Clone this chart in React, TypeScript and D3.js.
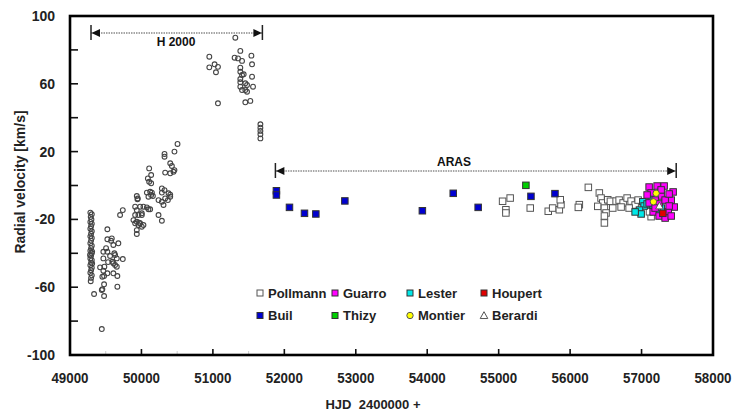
import React from "react";
import * as d3 from "d3";

// ---------- data ----------
const xTicks = [49000, 50000, 51000, 52000, 53000, 54000, 55000, 56000, 57000, 58000];
const xMinorTicks = [49500, 50500, 51500];
const yTicks = [-100, -80, -60, -40, -20, 0, 20, 40, 60, 80, 100];
const yLabelTicks = [-100, -60, -20, 20, 60, 100];

// H 2000 (open circles): [HJD-2400000, RV]
const h2000: [number, number][] = [
  [49285,-16],[49305,-17],[49290,-18.5],[49300,-20],[49285,-21.5],[49305,-22.5],[49295,-24],[49285,-25.5],
  [49305,-27],[49295,-28.5],[49285,-30],[49305,-31],[49295,-32.5],[49285,-34],[49305,-35.5],[49295,-37],
  [49285,-38.5],[49305,-40],[49295,-41.5],[49285,-43],[49305,-44],[49295,-45.5],[49285,-47],[49305,-48.5],
  [49295,-50],[49285,-51.5],[49305,-53],[49295,-54.5],[49290,-56.5],[49310,-39],[49310,-46],[49280,-41],
  [49523,-25.8],[49523,-31.7],[49585,-31.2],[49607,-35.1],[49677,-34.1],[49467,-39.1],[49523,-39.1],
  [49631,-41],[49655,-43],[49739,-43.4],[49467,-43],[49421,-48.3],[49467,-50.3],[49607,-45.9],[49655,-47.9],
  [49477,-53.4],[49523,-51.8],[49607,-51.8],[49663,-53.4],[49477,-58.3],[49445,-61.7],[49477,-65.2],
  [49663,-59.7],[49337,-64],[49445,-84.7],[49575,-32.6],[49621,-40],[49593,-45],[49481,-47.9],[49631,-46.9],
  [49453,-53.8],[49453,-61.2],[49505,-37],[49561,-41.6],[49533,-45.2],
  [49701,-17.4],[49739,-14.5],[49888,-20.4],[49912,-12.5],[49912,-17.4],[49912,-22.3],[49935,-14.5],
  [49935,-21.4],[49935,-26.3],[49935,-28.6],[49935,-6.2],[49944,-8.1],[49958,-17.4],[49958,-23.3],
  [49982,-12.5],[49982,-22.3],[50005,-16.4],[50005,-24.3],[50028,-12.5],[50028,-23.3],[50076,-4.2],
  [50098,-6.6],[50076,-12.9],[50098,-14],[50146,-4.2],[50160,-6.2],[50286,-4.2],[50403,-5.4],[50239,-8.6],
  [50286,-9.6],[50309,-11.5],[50239,-17.4],[50286,-20.8],[50108,10.1],[50136,6.2],[50090,4.2],[50108,2.2],
  [50136,1.3],[50122,-3.7],[50136,-5.6],[50286,-1.7],[50323,-2.7],[50379,-4.6],[50403,-6.6],[50332,-7.6],
  [50370,-8.6],[50505,24.5],[50462,20],[50323,18.6],[50323,17],[50403,13.1],[50426,11.5],[50332,7.6],
  [50403,7.2],[50449,8.1],[50462,9.1],[49949,-7.6],[50122,-14],[49967,-22],[50005,-17.4],
  [51314,87.2],[50950,76],[50950,69.7],[51024,71.5],[51071,70],[51043,66.8],[51071,48.5],[51384,79.4],
  [51304,75.4],[51352,75],[51408,73.5],[51539,76.6],[51548,71.5],[51384,69.5],[51384,67.1],[51408,65.2],
  [51431,65.6],[51548,64.2],[51384,62.8],[51384,60.9],[51454,60.3],[51478,59.3],[51384,58.3],[51408,56.3],
  [51454,56.3],[51478,55.3],[51562,58.3],[51454,49.1],[51524,49.9],[51665,36.1],[51665,34.1],[51665,32.2],
  [51665,30.2],[51665,27.8],
];

const pollmann: [number, number][] = [
  [55055,-9.3],[55101,-14.3],[55101,-16.2],[55161,-7.4],[55442,-13.3],[55694,-15.2],[55756,-13.3],
  [55849,-14.3],[55872,-11.3],[55862,-8.4],[56129,-11.3],[56115,-12.9],[56255,-1.1],[56409,-4.4],
  [56433,-7.4],[56457,-10.3],[56387,-12.3],[56480,-13.3],[56527,-8.4],[56564,-9.3],[56597,-13.3],
  [56503,-16.2],[56480,-18],[56480,-22.1],[56644,-9.2],[56686,-8.6],[56742,-10.3],[56798,-7.4],
  [56854,-9.2],[56910,-11.5],[56714,-12.7],[56826,-13.3],[56952,-8.6],[57134,-18.4],[57111,-15.5],
  [57064,-11.5],
];
const lester: [number, number][] = [
  [57018,-9.6],[57036,-12.1],[56971,-14.5],[56994,-16.8],[57078,-10.9],[57162,-11.5],[57275,-13.3],
  [57359,-17.4],[57219,-14.5],[56910,-15.6],[57134,-7.4],
];
const guarro: [number, number][] = [
  [57106,-0.9],[57218,-0.3],[57316,-0.3],[57442,-3.8],[57415,-8.6],[57457,-12.7],[57373,-15.6],
  [57274,-6.2],[57190,-8.6],[57106,-10.3],[57246,-10.9],[57330,-8.6],[57134,-4.4],[57386,-5],
  [57162,-15.6],[57246,-18],[57330,-19.2],[57415,-18],[57274,-2.6],[57078,-5.6],[57386,-12.1],[57190,-13.3],
];
const houpert: [number, number][] = [[57298,-16.4]];
const montier: [number, number][] = [[57204,-4.6],[57166,-9.6]];
const berardi: [number, number][] = [[57250,-12]];
const buil: [number, number][] = [
  [51889,-3.1],[51889,-5.6],[52072,-12.9],[52282,-16.4],[52441,-16.8],[52847,-9.1],[53932,-14.9],
  [54364,-4.6],[54713,-12.9],[55452,-6.4],[55788,-4.8],
];
const thizy: [number, number][] = [[55381,0.1]];

const h2000Span = [49294, 51693];
const arasSpan = [51875, 57485];

const legendRow1 = ["Pollmann", "Guarro", "Lester", "Houpert"];
const legendRow2 = ["Buil", "Thizy", "Montier", "Berardi"];

// ---------- chart ----------
const W = 744, H = 415;
const x = d3.scaleLinear().domain([49000, 58000]).range([70, 713]);
const y = d3.scaleLinear().domain([-100, 100]).range([355, 16]);
const FONT = "'Liberation Sans', Arial, sans-serif";

const colors: Record<string, string> = {
  Pollmann: "#ffffff", Guarro: "#ff00ff", Lester: "#00e8e8", Houpert: "#e00000",
  Buil: "#0000d0", Thizy: "#00d000", Montier: "#ffff00", Berardi: "#ffffff",
};

function Square({ cx, cy, fill, s = 6.5, stroke = "#333" }: any) {
  return <rect x={cx - s / 2} y={cy - s / 2} width={s} height={s} fill={fill} stroke={stroke} strokeWidth={1} />;
}

function Symbol({ name, cx, cy, s }: any) {
  if (name === "Montier") return <circle cx={cx} cy={cy} r={3.2} fill={colors[name]} stroke="#555" strokeWidth={1} />;
  if (name === "Berardi") {
    const r = 3.8;
    return <path d={`M${cx},${cy - r}L${cx + r},${cy + r * 0.8}L${cx - r},${cy + r * 0.8}Z`} fill="#fff" stroke="#555" strokeWidth={1} />;
  }
  return <Square cx={cx} cy={cy} fill={colors[name]} s={s} stroke={name === "Pollmann" ? "#555" : "#333"} />;
}

function SpanArrow({ span, yv, label, labelAbove, labelX }: any) {
  const x0 = x(span[0]), x1 = x(span[1]);
  return (
    <g>
      <line x1={x0} x2={x1} y1={yv} y2={yv} stroke="#8a8a8a" strokeWidth={1.6} strokeDasharray="1.5,1" />
      <line x1={x0} x2={x0} y1={yv - 8} y2={yv + 7} stroke="#222" strokeWidth={1.5} />
      <line x1={x1} x2={x1} y1={yv - 8} y2={yv + 7} stroke="#222" strokeWidth={1.5} />
      <path d={`M${x0 + 0.5},${yv}L${x0 + 9},${yv - 4}L${x0 + 9},${yv + 4}Z`} fill="#111" />
      <path d={`M${x1 - 0.5},${yv}L${x1 - 9},${yv - 4}L${x1 - 9},${yv + 4}Z`} fill="#111" />
      <text x={labelX} y={labelAbove ? yv - 5 : yv + 13} textAnchor="middle" fontFamily={FONT} fontWeight="bold" fontSize={12} fill="#111">{label}</text>
    </g>
  );
}

export default function App() {
  const seriesOrder: [string, [number, number][]][] = [
    ["Pollmann", pollmann], ["Lester", lester], ["Guarro", guarro], ["Houpert", houpert],
    ["Buil", buil], ["Thizy", thizy], ["Montier", montier], ["Berardi", berardi],
  ];
  const legendX = [260, 335, 410, 484];
  return (
    <svg width={W} height={H} style={{ position: "absolute", left: 0, top: 0, background: "#fff" }}>
      <rect width={W} height={H} fill="#fff" />
      {xMinorTicks.map((t) => (
        <line key={"mx" + t} x1={x(t)} x2={x(t)} y1={355} y2={351} stroke="#ccc" strokeWidth={1} />
      ))}
      {xTicks.map((t) => (
        <g key={"x" + t}>
          <line x1={x(t)} x2={x(t)} y1={355} y2={349} stroke="#111" strokeWidth={1.6} />
          <text x={x(t)} y={383} textAnchor="middle" fontFamily={FONT} fontWeight="bold" fontSize={14.5} fill="#222" transform={`translate(${x(t)},383) scale(0.92,1.05) translate(${-x(t)},-383)`}>{t}</text>
        </g>
      ))}
      {yTicks.map((t) => (
        <line key={"y" + t} x1={70} x2={78} y1={y(t)} y2={y(t)} stroke="#111" strokeWidth={1.6} />
      ))}
      {yLabelTicks.map((t) => (
        <text key={"yl" + t} x={55} y={y(t) + 5} textAnchor="end" fontFamily={FONT} fontWeight="bold" fontSize={14} fill="#222">{t}</text>
      ))}
      <rect x={70} y={16} width={643} height={339} fill="none" stroke="#000" strokeWidth={2.6} />
      <text transform="translate(25,182) rotate(-90)" textAnchor="middle" fontFamily={FONT} fontWeight="bold" fontSize={14} fill="#222">Radial velocity [km/s]</text>
      <text x={373} y={409} textAnchor="middle" fontFamily={FONT} fontWeight="bold" fontSize={13} fill="#222" style={{ whiteSpace: "pre" }}>{"HJD  2400000 +"}</text>

      <SpanArrow span={h2000Span} yv={33} label="H 2000" labelAbove={false} labelX={176} />
      <SpanArrow span={arasSpan} yv={171} label="ARAS" labelAbove={true} labelX={454} />

      {h2000.map(([a, b], i) => (
        <circle key={"h" + i} cx={x(a)} cy={y(b)} r={2.4} fill="none" stroke="#444" strokeWidth={1.1} />
      ))}
      {seriesOrder.map(([name, data]) => (
        <g key={name}>
          {data.map(([a, b], i) => (
            <Symbol key={i} name={name} cx={x(a)} cy={y(b)} s={6.5} />
          ))}
        </g>
      ))}

      {[legendRow1, legendRow2].map((row, ri) =>
        row.map((name, ci) => {
          const cy = ri === 0 ? 293 : 315.5;
          const lx = legendX[ci];
          return (
            <g key={name}>
              <Symbol name={name} cx={lx} cy={cy} s={6} />
              <text x={lx + 8} y={cy + 4.5} fontFamily={FONT} fontWeight="bold" fontSize={13} fill="#222">{name}</text>
            </g>
          );
        })
      )}
    </svg>
  );
}
